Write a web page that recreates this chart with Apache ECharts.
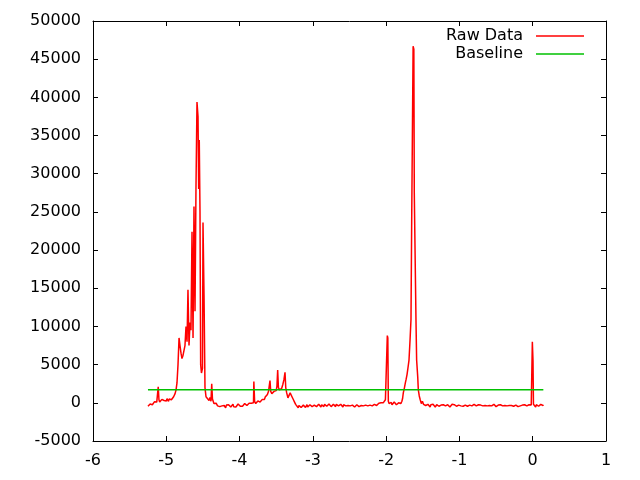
<!DOCTYPE html>
<html>
<head>
<meta charset="utf-8">
<script src="https://cdn.jsdelivr.net/npm/echarts@6/dist/echarts.min.js"></script>
<style>html,body{margin:0;padding:0;background:#fff;}#c{width:640px;height:480px;}</style>
</head>
<body>
<div id="c"></div>
<script>
const seriesNames = ["Raw Data", "Baseline"];
const xTicks = [-6, -5, -4, -3, -2, -1, 0, 1];
const yTicks = [-5000, 0, 5000, 10000, 15000, 20000, 25000, 30000, 35000, 40000, 45000, 50000];

const rawX = [
-5.25,-5.24,-5.23,-5.22,-5.21,-5.20,-5.19,-5.18,-5.17,-5.16,-5.15,-5.14,-5.13,-5.12,-5.11,-5.10,-5.09,-5.08,-5.07,-5.06,-5.05,-5.04,-5.03,-5.02,-5.01,-5.00,-4.99,-4.98,-4.97,-4.96,-4.95,-4.94,-4.93,-4.92,-4.91,-4.90,-4.89,
-4.88,-4.867,-4.854,-4.840,-4.826,-4.813,-4.799,-4.786,-4.772,-4.758,-4.745,-4.731,-4.717,-4.704,-4.690,-4.676,-4.663,-4.649,-4.635,-4.622,-4.608,-4.595,-4.581,-4.567,-4.558,-4.550,-4.540,-4.531,-4.520,-4.506,-4.499,-4.485,-4.472,-4.458,-4.444,-4.431,-4.417,-4.404,-4.390,-4.380,-4.370,-4.360,-4.350,-4.340,-4.330,-4.320,-4.310,
-4.30,-4.29,-4.28,-4.27,-4.26,-4.25,-4.24,-4.23,-4.22,-4.21,
-4.20,-4.19,-4.18,-4.17,-4.16,-4.15,-4.14,-4.13,-4.12,-4.11,
-4.10,-4.09,-4.08,-4.07,-4.06,-4.05,-4.04,-4.03,-4.02,-4.01,
-4.00,-3.99,-3.98,-3.97,-3.96,-3.95,-3.94,-3.93,-3.92,-3.91,
-3.90,-3.89,-3.88,-3.87,-3.86,-3.85,-3.84,-3.83,-3.82,
-3.81,-3.805,-3.795,-3.78,-3.77,-3.76,-3.75,-3.74,-3.73,-3.72,-3.71,-3.70,-3.69,-3.68,-3.67,-3.66,-3.65,-3.64,-3.63,-3.62,-3.605,-3.59,-3.585,-3.575,-3.56,-3.545,-3.53,-3.515,-3.50,-3.49,-3.48,-3.47,-3.455,-3.44,-3.425,-3.41,-3.395,-3.38,-3.37,-3.357,-3.34,-3.325,-3.31,-3.295,-3.28,-3.265,-3.25,-3.235,-3.22,
-3.21,-3.20,-3.19,-3.18,-3.17,-3.16,-3.15,-3.14,-3.13,-3.12,
-3.11,-3.10,-3.09,-3.08,-3.07,-3.06,-3.05,-3.04,-3.03,-3.02,
-3.01,-3.00,-2.99,-2.98,-2.97,-2.96,-2.95,-2.94,-2.93,-2.92,
-2.91,-2.90,-2.89,-2.88,-2.87,-2.86,-2.85,-2.84,-2.83,-2.82,
-2.81,-2.80,-2.79,-2.78,-2.77,-2.76,-2.75,-2.74,-2.73,-2.72,
-2.71,-2.70,-2.69,-2.68,-2.67,-2.66,-2.65,-2.64,-2.63,-2.62,
-2.61,-2.60,-2.59,-2.58,-2.57,-2.56,-2.55,-2.54,-2.53,-2.52,
-2.51,-2.50,-2.49,-2.48,-2.47,-2.46,-2.45,-2.44,-2.43,-2.42,
-2.41,-2.40,-2.39,-2.38,-2.37,-2.36,-2.35,-2.34,-2.33,-2.32,
-2.31,-2.30,-2.29,-2.28,-2.27,-2.26,-2.25,-2.24,-2.23,-2.22,
-2.21,-2.20,-2.19,-2.18,-2.17,-2.16,-2.15,-2.14,-2.13,-2.12,
-2.11,-2.10,-2.09,-2.08,-2.07,-2.06,-2.05,-2.04,-2.03,-2.02,
-2.01,-2.00,-1.99,-1.984,-1.977,-1.970,
-1.96,-1.95,-1.94,-1.93,-1.92,-1.91,-1.90,-1.89,-1.88,-1.87,-1.86,-1.85,-1.84,-1.83,-1.82,-1.81,
-1.80,-1.785,-1.775,-1.766,-1.75,-1.738,-1.729,-1.715,-1.706,-1.688,-1.674,-1.661,-1.651,-1.642,-1.632,-1.622,-1.616,-1.602,-1.593,-1.584,-1.569,-1.561,-1.548,-1.535,-1.52,-1.505,-1.49,-1.475,-1.46,
-1.45,-1.44,-1.43,-1.42,-1.41,-1.40,-1.39,-1.38,-1.37,-1.36,
-1.35,-1.34,-1.33,-1.32,-1.31,-1.30,-1.29,-1.28,-1.27,-1.26,
-1.25,-1.24,-1.23,-1.22,-1.21,-1.20,-1.19,-1.18,-1.17,-1.16,
-1.15,-1.14,-1.13,-1.12,-1.11,-1.10,-1.09,-1.08,-1.07,-1.06,
-1.05,-1.04,-1.03,-1.02,-1.01,-1.00,-0.99,-0.98,-0.97,-0.96,
-0.95,-0.94,-0.93,-0.92,-0.91,-0.90,-0.89,-0.88,-0.87,-0.86,
-0.85,-0.84,-0.83,-0.82,-0.81,-0.80,-0.79,-0.78,-0.77,-0.76,
-0.75,-0.74,-0.73,-0.72,-0.71,-0.70,-0.69,-0.68,-0.67,-0.66,
-0.65,-0.64,-0.63,-0.62,-0.61,-0.60,-0.59,-0.58,-0.57,-0.56,
-0.55,-0.54,-0.53,-0.52,-0.51,-0.50,-0.49,-0.48,-0.47,-0.46,
-0.45,-0.44,-0.43,-0.42,-0.41,-0.40,-0.39,-0.38,-0.37,-0.36,
-0.35,-0.34,-0.33,-0.32,-0.31,-0.30,-0.29,-0.28,-0.27,-0.26,
-0.25,-0.24,-0.23,-0.22,-0.21,-0.20,-0.19,-0.18,-0.17,-0.16,
-0.15,-0.14,-0.13,-0.12,-0.11,-0.10,-0.09,-0.08,-0.07,-0.06,
-0.05,-0.04,-0.03,-0.02,-0.01,
-0.005,0.004,
0.01,0.02,0.03,0.04,0.05,0.06,0.07,0.08,0.09,0.10,0.11,0.12,0.13,0.14,0.145
];
const rawY = [
-450,-250,-400,-150,-300,-100,-250,0,-100,150,0,250,100,300,2100,400,100,350,150,450,250,500,300,200,450,250,550,350,200,500,300,600,400,650,550,800,950,
1200,1700,2600,5000,8500,7500,6500,5800,6200,6000,7500,10000,8000,14800,7500,10500,9500,22400,8500,25700,12000,28000,39400,37500,28000,34400,25000,5000,3900,4500,23600,14100,2000,800,600,1000,300,700,200,2500,500,300,-100,100,-250,-50,-300,
-400,-600,-300,-500,-350,-650,-400,-250,-550,-350,
-450,-650,-300,-450,-550,-250,-500,-350,-550,-300,
-450,-200,-500,-350,-250,-550,-300,-450,-150,-400,
-250,-450,-300,-200,-450,-250,-350,-100,-350,-200,
-350,-150,-300,-50,-300,-150,-50,-250,-100,
0,2800,200,-100,150,-50,250,0,300,100,350,200,450,300,550,450,750,650,1000,1100,1500,1400,2900,1500,1200,1300,1500,1700,1600,2200,4300,2000,1700,1800,1900,2400,3000,4000,2000,1300,650,900,1300,1400,700,400,100,-200,-400,
-450,-650,-350,-550,-300,-600,-400,-550,-300,-500,
-350,-600,-400,-250,-550,-350,-500,-250,-450,-300,
-500,-350,-600,-300,-450,-250,-500,-350,-400,-200,
-450,-300,-550,-250,-400,-300,-500,-200,-400,-300,
-450,-250,-350,-150,-400,-300,-500,-250,-400,-200,
-450,-300,-500,-200,-350,-150,-400,-250,-350,-200,
-400,-300,-550,-250,-450,-200,-400,-300,-500,-350,
-450,-250,-400,-200,-500,-300,-450,-250,-550,-350,
-400,-250,-450,-300,-500,-300,-600,-350,-450,-250,
-400,-200,-450,-300,-500,-350,-400,-250,-450,-300,
-350,-150,-400,-250,-350,-200,-300,-100,-350,-200,
-250,-50,-300,-100,0,-150,100,0,250,150,
400,250,300,8800,8500,200,
-100,150,-200,50,-250,0,-300,100,-150,50,-250,-50,-300,0,-200,100,
-100,200,600,1300,2000,2600,3000,3700,4300,5600,8200,10900,24400,24600,46700,46300,27500,27600,10900,5600,3400,1700,900,400,-100,200,-200,0,-350,
-150,-400,-200,-450,-300,-550,-250,-450,-350,-200,
-450,-300,-550,-350,-250,-500,-300,-450,-200,-400,
-300,-550,-350,-250,-450,-200,-400,-300,-500,-250,
-450,-350,-550,-300,-400,-200,-450,-350,-250,-500,
-300,-450,-200,-400,-300,-550,-250,-400,-200,-350,
-450,-250,-400,-300,-550,-350,-450,-250,-400,-300,
-500,-250,-400,-300,-450,-200,-350,-150,-400,-300,
-450,-250,-350,-500,-300,-450,-250,-400,-300,-500,
-350,-450,-250,-400,-300,-550,-350,-450,-250,-400,
-300,-450,-200,-400,-350,-500,-250,-450,-300,-550,
-350,-250,-450,-300,-400,-250,-500,-350,-450,-250,
-400,-300,-500,-350,-250,-450,-350,-550,-300,-450,
-250,-400,-300,-450,-350,-500,-300,-550,-400,-250,
-450,-300,-500,-350,-250,-450,-300,-400,-200,-350,
-250,-400,-150,-300,-200,
8000,5500,
-200,-450,-300,-550,-250,-400,-150,-450,-300,-500,-200,-400,-250,-350,-250
];
const baseX = [-5.25, 0.145];
const baseY = [1700, 1700];

if (rawX.length !== rawY.length) throw new Error('length mismatch ' + rawX.length + ' vs ' + rawY.length);

const rawData = rawX.map((x, i) => [x, rawY[i]]);
const baseData = baseX.map((x, i) => [x, baseY[i]]);

const font = 'DejaVu Sans';
const chart = echarts.init(document.getElementById('c'), null, {renderer: 'canvas'});
const tickCommon = {show: true, inside: true, length: 5, lineStyle: {color: '#000', width: 1}};
const lineCommon = {show: true, onZero: false, lineStyle: {color: '#000', width: 1}};
chart.setOption({
  animation: false,
  backgroundColor: '#fff',
  grid: {left: 93, right: 34, top: 21, bottom: 39, containLabel: false},
  legend: {
    data: seriesNames,
    orient: 'vertical',
    align: 'right',
    right: 51,
    top: 22,
    itemWidth: 48,
    itemHeight: 1.5,
    itemGap: 0,
    icon: 'rect',
    textStyle: {fontFamily: font, fontSize: 16, color: '#000', lineHeight: 18, padding: [0, 8, 0, 0]}
  },
  xAxis: [{
    type: 'value', min: xTicks[0], max: xTicks[xTicks.length - 1], interval: 1,
    axisLine: lineCommon, axisTick: tickCommon, splitLine: {show: false},
    axisLabel: {fontFamily: font, fontSize: 16, color: '#000', margin: 12, formatter: v => String(v)}
  }, {
    type: 'value', position: 'top', min: xTicks[0], max: xTicks[xTicks.length - 1], interval: 1,
    axisLine: lineCommon, axisTick: tickCommon, splitLine: {show: false}, axisLabel: {show: false}
  }],
  yAxis: [{
    type: 'value', min: yTicks[0], max: yTicks[yTicks.length - 1], interval: 5000,
    axisLine: lineCommon, axisTick: tickCommon, splitLine: {show: false},
    axisLabel: {fontFamily: font, fontSize: 16, color: '#000', margin: 12, formatter: v => String(v)}
  }, {
    type: 'value', position: 'right', min: yTicks[0], max: yTicks[yTicks.length - 1], interval: 5000,
    axisLine: lineCommon, axisTick: tickCommon, splitLine: {show: false}, axisLabel: {show: false}
  }],
  series: [{
    name: seriesNames[0], type: 'line', data: rawData, showSymbol: false, symbol: 'none',
    lineStyle: {color: '#ff0000', width: 1.5}, itemStyle: {color: '#ff0000'}
  }, {
    name: seriesNames[1], type: 'line', data: baseData, showSymbol: false, symbol: 'none',
    lineStyle: {color: '#00c000', width: 1.5}, itemStyle: {color: '#00c000'}
  }]
});
</script>
</body>
</html>
